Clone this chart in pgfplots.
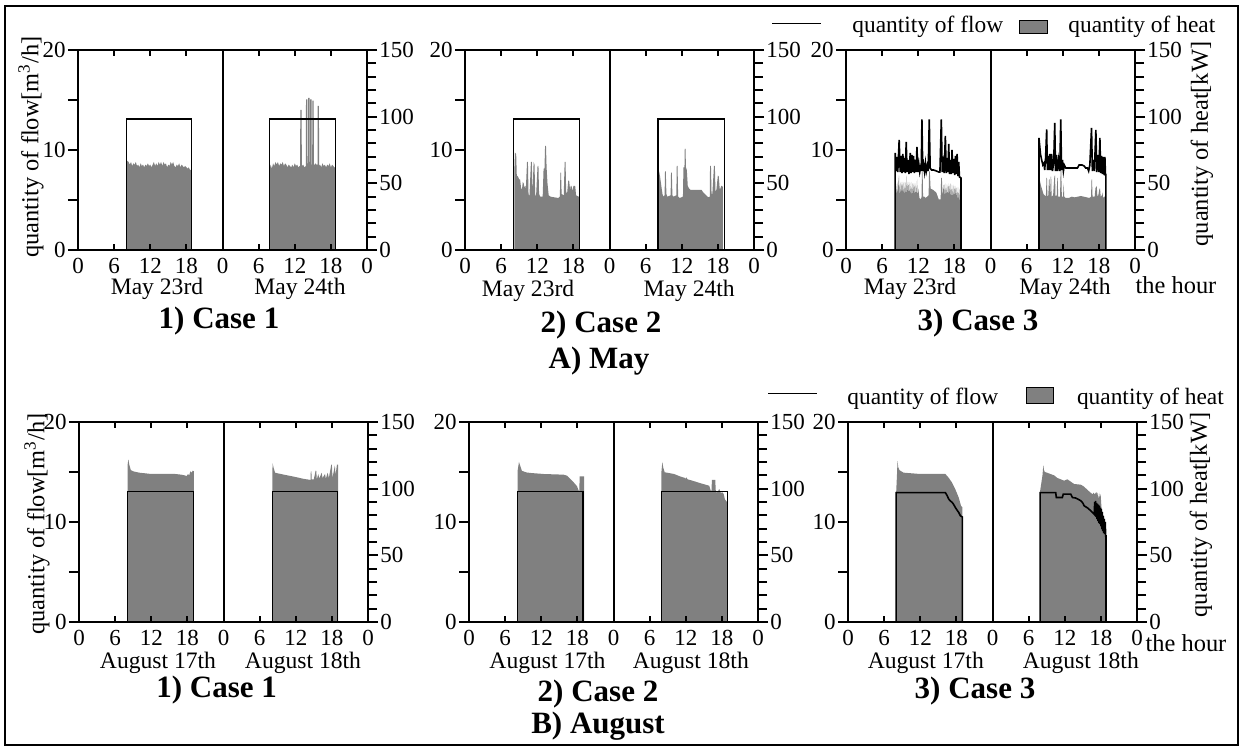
\documentclass[border=0pt]{standalone}
\usepackage{pgfplots}
\pgfplotsset{compat=1.18}
\usepackage{fontspec}
\setmainfont{Liberation Serif}
\newcommand{\tfont}{\fontsize{11.5}{13}\selectfont}
\newcommand{\lfont}{\fontsize{11.7}{13}\selectfont}
\newcommand{\yfont}{\fontsize{12.2}{14}\selectfont}
\newcommand{\dfont}{\fontsize{11.8}{13}\selectfont}
\newcommand{\bfont}{\fontsize{15.5}{17}\selectfont\bfseries}
\pgfplotsset{
  /pgf/number format/assume math mode=true,
  base/.style={scale only axis, width=144.5pt, height=100pt, xmin=0, xmax=48, anchor=south west,
    axis line style={line width=1pt,-},
    tick style={line width=0.9pt, black},
    tick label style={font=\tfont}},
  heatax/.style={base, ymin=0, ymax=150, axis on top,
    xtick={0,6,...,48}, xticklabels={0,6,12,18,0,6,12,18,0},
    xtick pos=both, xticklabel pos=lower, tick align=inside, major tick length=3pt,
    ytick=\empty, xticklabel style={yshift=-0.8pt}},
  rightax/.style={base, ymin=0, ymax=150, axis x line=none, axis y line=right,
    ytick={0,50,100,150}, minor ytick={10,20,30,40,60,70,80,90,110,120,130,140},
    tick align=outside, major tick length=5pt, minor tick length=4.5pt,
    yticklabel style={inner sep=1pt},
    axis line style={line width=1pt,-}, y axis line style={-},
    every outer y axis line/.append style={-}, every inner y axis line/.append style={-}},
  leftax/.style={base, ymin=0, ymax=20, axis x line=none, axis y line=left,
    ytick={0,10,20}, minor ytick={5,15},
    tick align=outside, major tick length=5pt, minor tick length=5pt,
    yticklabel style={inner sep=1pt},
    axis line style={line width=1pt,-}, y axis line style={-},
    every outer y axis line/.append style={-}, every inner y axis line/.append style={-}},
}
\begin{document}
\begin{tikzpicture}
\path[use as bounding box] (0pt,0pt) rectangle (622pt,375pt);
\draw[line width=1pt] (2.5pt,2.5pt) rectangle (619pt,372pt);

%% ================= TOP ROW (May) =================
%% Panel 1
\begin{axis}[heatax, at={(39pt,250pt)}]
\addplot[fill=gray, draw=none] coordinates {(8.05,0)(8.05,60)(8.15,67)(8.4,66)(8.6,64)(8.8,66)(9.0,63)(9.2,65)(9.4,64)(9.6,66)(9.8,63)(10.0,64)(10.2,62)(10.4,65)(10.6,63)(10.8,64)(11.0,62)(11.2,64)(11.4,63)(11.6,65)(11.8,63)(12.0,64)(12.2,62)(12.4,64)(12.6,66)(12.8,63)(13.0,65)(13.2,63)(13.4,66)(13.6,64)(13.8,66)(14.0,63)(14.2,66)(14.4,64)(14.6,65)(14.8,62)(15.0,64)(15.2,63)(15.4,66)(15.6,64)(15.8,66)(16.0,63)(16.2,62)(16.4,64)(16.6,63)(16.8,65)(17.0,62)(17.2,64)(17.4,63)(17.6,62)(17.8,63)(18.0,62)(18.2,61)(18.4,62)(18.6,60)(18.85,60)(18.85,0)
(31.8,0)(31.8,60)(32.0,64)(32.2,61)(32.4,65)(32.6,63)(32.8,66)(33.0,64)(33.2,66)(33.4,63)(33.6,65)(33.8,64)(34.0,66)(34.2,63)(34.4,65)(34.6,64)(34.8,62)(35.0,64)(35.2,63)(35.4,62)(35.6,64)(35.8,62)(36.0,65)(36.2,63)(36.4,64)(36.6,62)(36.8,63)(36.9,63)(36.92,105)(37.15,105)(37.17,63)(37.4,64)(37.6,62)(37.85,63)(37.87,113)(38.1,113)(38.12,64)(38.2,64)(38.22,114)(38.45,114)(38.47,66)(38.55,66)(38.57,113)(38.8,113)(38.82,64)(38.9,64)(38.92,112)(39.15,112)(39.17,63)(39.4,65)(39.6,64)(39.78,64)(39.8,108)(40.02,108)(40.04,63)(40.2,64)(40.4,62)(40.6,65)(40.8,63)(41.0,64)(41.2,62)(41.4,64)(41.6,63)(41.8,65)(42.0,62)(42.2,64)(42.4,63)(42.6,62)(42.75,62)(42.75,0)};
\draw[line width=1pt] (axis cs:24,0) -- (axis cs:24,150);
\end{axis}
\begin{axis}[rightax, at={(39pt,250pt)}]
\addplot[draw=none] coordinates {(0,0)};
\end{axis}
\begin{axis}[leftax, at={(39pt,250pt)}]
\addplot[black, line width=0.7pt] coordinates {(0,0)(8.05,0)(8.05,13.1)(18.85,13.1)(18.85,0)(31.8,0)(31.8,13.1)(42.75,13.1)(42.75,0)(48,0)};
\end{axis}

%% Panel 2
\begin{axis}[heatax, at={(232.5pt,250pt)}]
\addplot[fill=gray, draw=none] coordinates {(8.2,0)(8.2,60)(8.3,73)(8.5,72)(8.6,56)(8.8,55)(9.0,53)(9.15,53)(9.3,47)(9.45,45)(9.6,51)(9.75,50)(9.85,47)(10.0,48)(10.1,45)(10.3,66)(10.45,66)(10.55,42)(10.7,40)(10.95,66)(11.1,66)(11.2,42)(11.4,66)(11.55,64)(11.65,42)(11.8,40)(12.05,63)(12.2,63)(12.3,42)(12.5,40)(12.9,40)(13.05,61)(13.2,61)(13.3,78)(13.45,78)(13.55,62)(13.7,50)(13.9,41)(14.2,40)(15.5,39)(15.75,40)(15.85,58)(15.95,58)(16.05,42)(16.4,41)(16.55,66)(16.7,66)(16.8,44)(16.95,42)(17.15,52)(17.3,52)(17.45,45)(17.55,48)(17.7,48)(17.85,44)(18.0,48)(18.3,48)(18.45,41)(18.9,40)(18.9,0)
(32.16,0)(32.16,61)(32.4,55)(32.61,48)(32.8,42)(32.94,40)(33.15,41)(33.22,59)(33.35,59)(33.45,42)(33.61,40)(34.15,41)(34.22,58)(34.35,58)(34.45,41)(34.62,40)(35.1,41)(35.17,63)(35.3,63)(35.4,40)(35.67,39)(36.2,40)(36.28,62)(36.45,62)(36.5,76)(36.62,76)(36.7,62)(36.84,60)(37.0,48)(37.24,46)(37.5,45)(38.5,45)(39.3,45)(39.6,43)(39.85,42)(40.4,39.5)(40.65,40)(40.7,63)(40.85,63)(40.95,42)(41.08,42)(41.35,63)(41.5,63)(41.6,44)(41.75,45)(42.0,56)(42.15,55)(42.3,46)(42.42,46)(42.55,48)(42.7,48)(42.85,47)(42.85,0)};
\draw[line width=1pt] (axis cs:24,0) -- (axis cs:24,150);
\end{axis}
\begin{axis}[rightax, at={(232.5pt,250pt)}]
\addplot[draw=none] coordinates {(0,0)};
\end{axis}
\begin{axis}[leftax, at={(232.5pt,250pt)}]
\addplot[black, line width=0.7pt] coordinates {(0,0)(8.08,0)(8.08,13.1)(19.0,13.1)(19.0,0)(32.05,0)(32.05,13.1)(43.1,13.1)(43.1,0)(48,0)};
\end{axis}

%% Panel 3
\begin{axis}[heatax, at={(423pt,250pt)}]
\addplot[fill=gray, draw=none] coordinates {(8.17,0)(8.17,52)(8.3,50)(8.4,40)(8.5,51)(8.6,40)(8.7,51)(8.8,56)(8.9,40)(9.0,51)(9.1,40)(9.2,51)(9.3,40)(9.4,51)(9.5,40)(9.6,51)(9.7,40)(9.8,51)(9.9,40)(10.0,56)(10.1,40)(10.2,51)(10.3,40)(10.4,51)(10.5,40)(10.6,51)(10.7,40)(10.8,51)(10.9,40)(11.0,50)(11.1,40)(11.2,50)(11.3,39)(11.4,50)(11.5,39)(11.6,50)(11.7,40)(11.8,53)(11.9,39)(12.0,46)(12.2,39)(12.45,38)(12.55,40)(12.61,59)(12.72,59)(12.8,40)(13.0,40)(13.2,39)(13.5,40)(13.72,41)(13.8,59)(13.92,59)(14.05,46)(14.5,45)(15.0,43)(15.4,38)(15.72,38)(15.8,54)(15.92,54)(16.05,40)(16.2,49)(16.3,40)(16.4,49)(16.5,40)(16.6,50)(16.7,40)(16.8,49)(16.9,39)(17.0,50)(17.1,39)(17.2,49)(17.3,39)(17.4,50)(17.5,39)(17.6,49)(17.7,38)(17.8,49)(17.9,38)(18.0,48)(18.1,38)(18.2,48)(18.3,38)(18.4,47)(18.5,37)(18.6,47)(18.7,37)(18.8,46)(18.9,37)(19.1,37)(19.1,0)
(32.05,0)(32.05,56)(32.2,52)(32.4,48)(32.6,45)(32.8,42)(33.0,41)(33.2,40)(33.3,54)(33.38,54)(33.45,40)(33.6,41)(33.72,53)(33.8,53)(33.9,40)(34.0,55)(34.08,55)(34.15,40)(34.4,41)(34.6,55)(34.72,56)(34.8,40)(35.0,41)(35.08,54)(35.15,54)(35.25,40)(35.55,40)(35.65,60)(35.75,60)(35.85,40)(36.05,40)(36.15,50)(36.25,40)(36.5,39)(37.0,39)(37.5,40)(38.0,39.5)(38.5,40)(39.0,40.5)(39.5,40)(40.0,39.5)(40.4,39)(40.7,40)(40.78,53)(40.86,53)(40.95,40)(41.3,40)(41.45,47)(41.55,47)(41.65,48)(41.75,40)(41.9,41)(42.1,46)(42.2,46)(42.3,40)(42.5,41)(42.6,43)(42.7,39)(42.9,40)(43.17,40)(43.17,0)};
\draw[line width=1pt] (axis cs:24,0) -- (axis cs:24,150);
\end{axis}
\begin{axis}[rightax, at={(423pt,250pt)}]
\addplot[draw=none] coordinates {(0,0)};
\end{axis}
\begin{axis}[leftax, at={(423pt,250pt)}]
\addplot[black, line width=0.8pt] coordinates {(0,0)(8.17,0)(8.17,9.7)(8.3,7.9)(8.45,9.3)(8.6,7.8)(8.83,11.0)(9.0,7.8)(9.15,9.4)(9.3,7.7)(9.44,9.6)(9.6,7.8)(9.75,9.2)(9.85,7.7)(10.0,10.8)(10.15,7.8)(10.3,9.0)(10.45,7.6)(10.67,9.7)(10.8,7.7)(10.95,9.5)(11.1,7.8)(11.22,9.4)(11.35,7.7)(11.5,9.0)(11.65,7.8)(11.78,10.3)(11.95,7.8)(12.1,8.6)(12.25,7.8)(12.4,8.3)(12.5,7.9)(12.61,13.06)(12.75,7.9)(12.9,8.5)(13.05,7.8)(13.2,8.7)(13.35,7.9)(13.5,8.4)(13.65,7.9)(13.83,13.06)(13.98,8.2)(14.2,8.0)(14.56,8.0)(15.0,7.9)(15.4,7.8)(15.6,7.8)(15.83,13.06)(15.98,7.8)(16.15,8.7)(16.3,7.7)(16.5,11.4)(16.65,7.7)(16.85,9.2)(16.95,7.8)(17.06,10.6)(17.2,7.6)(17.4,9.0)(17.5,7.6)(17.61,10.0)(17.75,7.7)(17.9,9.1)(18.05,7.5)(18.17,9.4)(18.3,7.6)(18.45,9.6)(18.6,7.4)(18.72,8.8)(18.85,7.3)(19.1,7.2)(19.1,0)(32.05,0)(32.05,11.2)(32.3,9.6)(32.5,9.0)(32.7,8.5)(32.89,8.7)(33.0,8.0)(33.15,9.2)(33.33,12.05)(33.45,8.0)(33.6,9.4)(33.72,8.0)(33.85,9.6)(34.0,8.0)(34.15,9.6)(34.3,7.9)(34.5,8.8)(34.67,12.7)(34.8,7.9)(34.95,9.5)(35.11,7.9)(35.3,9.0)(35.5,7.9)(35.67,13.06)(35.8,8.0)(35.95,9.0)(36.11,7.9)(36.25,8.5)(36.5,8.2)(37.0,8.2)(37.5,8.2)(38.44,8.2)(38.72,8.5)(39.2,8.5)(39.56,8.4)(39.8,8.2)(40.11,8.2)(40.3,7.9)(40.5,8.5)(40.78,12.2)(40.92,7.9)(41.1,9.0)(41.25,7.9)(41.5,12.0)(41.65,7.8)(41.85,9.5)(42.0,7.8)(42.17,11.2)(42.3,7.7)(42.45,9.4)(42.6,7.6)(42.75,9.3)(42.9,7.5)(43.0,9.3)(43.1,7.5)(43.17,7.5)(43.17,0)(48,0)};
\end{axis}

%% ================= BOTTOM ROW (August) =================
%% Panel 1
\begin{axis}[heatax, at={(39.5pt,64pt)}]
\addplot[fill=gray, draw=none] coordinates {(8.08,0)(8.08,118)(8.2,122)(8.35,118)(8.6,114)(9.0,113)(10,112)(11,111.5)(12,111)(13,111)(14,111)(15,111)(16,111)(17,110.5)(17.5,110)(17.9,109.5)(18.1,111)(18.3,110)(18.5,113)(18.7,112)(18.9,113.5)(19.1,113)(19.1,0)
(32.1,0)(32.1,112)(32.17,119)(32.3,116)(32.56,112)(33.0,111.5)(33.94,110.6)(35.6,109.1)(37.27,107.4)(38.37,106.6)(38.45,106.5)(38.5,113)(38.6,113)(38.65,107)(39.0,107)(39.3,113.5)(39.4,113.5)(39.5,107)(39.75,111)(39.9,107.5)(40.3,112)(40.45,108)(40.86,111)(41.0,107.5)(41.3,112)(41.5,108)(41.9,118)(42.0,118)(42.1,108)(42.5,117.5)(42.6,110)(42.85,118)(43.05,118)(43.05,0)};
\draw[line width=1pt] (axis cs:24,0) -- (axis cs:24,150);
\end{axis}
\begin{axis}[rightax, at={(39.5pt,64pt)}]
\addplot[draw=none] coordinates {(0,0)};
\end{axis}
\begin{axis}[leftax, at={(39.5pt,64pt)}]
\addplot[black, line width=0.7pt] coordinates {(0,0)(8.08,0)(8.08,13.07)(18.98,13.07)(18.98,0)(32.1,0)(32.1,13.07)(42.97,13.07)(42.97,0)(48,0)};
\end{axis}

%% Panel 2
\begin{axis}[heatax, at={(234.5pt,64pt)}]
\addplot[fill=gray, draw=none] coordinates {(8.06,0)(8.06,113)(8.3,120)(8.45,118)(8.78,113.4)(9.5,112.2)(10.17,111.8)(12.39,111.0)(15.72,110.5)(16.28,109.7)(16.83,107.2)(17.39,104.7)(17.94,101.8)(18.22,98.5)(18.32,98)(18.38,109.2)(19.1,109.2)(19.1,0)
(31.95,0)(31.95,112)(32.11,120)(32.25,116)(32.5,112.3)(34.06,111)(35.17,109)(35.9,108)(36.0,107.2)(36.1,108.5)(36.3,107)(37.1,106)(38.5,104)(39.9,102.2)(40.15,98.5)(40.3,98.5)(40.33,106.5)(40.9,106.5)(41.0,97.2)(41.3,97.5)(41.56,99.7)(41.8,97)(42.1,97.2)(42.3,96)(42.5,92)(42.67,91)(42.9,89.7)(42.9,0)};
\draw[line width=1pt] (axis cs:24,0) -- (axis cs:24,150);
\end{axis}
\begin{axis}[rightax, at={(234.5pt,64pt)}]
\addplot[draw=none] coordinates {(0,0)};
\end{axis}
\begin{axis}[leftax, at={(234.5pt,64pt)}]
\addplot[black, line width=0.7pt] coordinates {(0,0)(8.05,0)(8.05,13.03)(18.95,13.03)(18.95,0)(31.95,0)(31.95,13.03)(42.95,13.03)(42.95,0)(48,0)};
\end{axis}

%% Panel 3
\begin{axis}[heatax, at={(424pt,64pt)}]
\addplot[fill=gray, draw=none] coordinates {(8.0,0)(8.0,97)(8.15,112)(8.22,120.6)(8.35,116)(8.56,113.8)(9.22,112)(12,111)(16.17,111)(16.72,108.2)(17.28,104.5)(17.83,99.5)(18.39,93.3)(18.78,87)(19.0,86)(19.0,0)
(31.9,0)(31.9,98)(32.3,110)(32.44,117.6)(32.55,114)(32.67,112.6)(34.22,110)(34.78,108)(35.89,106)(36.44,107)(37.56,103.5)(38.67,103)(39.22,101.5)(39.78,99)(40.61,95.8)(40.8,97)(41.0,95.5)(41.1,97)(41.2,96)(41.3,97.5)(41.44,96.5)(41.6,92)(41.7,97)(41.8,93)(41.95,96)(42.1,86)(42.28,81)(42.5,79)(42.7,70)(42.83,64.8)(42.9,64.8)(42.9,0)};
\draw[line width=1pt] (axis cs:24,0) -- (axis cs:24,150);
\end{axis}
\begin{axis}[rightax, at={(424pt,64pt)}]
\addplot[draw=none] coordinates {(0,0)};
\end{axis}
\begin{axis}[leftax, at={(424pt,64pt)}]
\addplot[black, line width=0.8pt] coordinates {(0,0)(8.0,0)(8.0,12.94)(16.17,12.94)(16.5,12.6)(16.72,12.3)(17.0,12.1)(17.28,11.97)(17.5,11.8)(17.83,11.45)(18.1,11.2)(18.39,10.95)(18.67,10.62)(18.94,10.52)(19.0,10.5)(19.0,0)(31.9,0)(31.9,12.94)(34.5,12.94)(34.6,12.45)(35.6,12.45)(35.75,12.78)(37.0,12.78)(37.28,12.45)(37.8,12.4)(38.3,12.25)(38.67,12.12)(39.0,11.9)(39.22,11.62)(39.8,11.4)(40.33,11.12)(40.89,10.79)(40.98,12.0)(41.05,10.6)(41.12,12.1)(41.2,10.5)(41.28,11.9)(41.36,10.3)(41.44,11.8)(41.52,10.1)(41.6,11.7)(41.68,9.9)(41.76,11.6)(41.84,9.8)(41.92,11.4)(42.0,9.6)(42.08,11.3)(42.16,9.3)(42.24,11.0)(42.32,9.1)(42.4,10.6)(42.48,8.9)(42.56,10.3)(42.64,8.8)(42.72,10.0)(42.8,8.6)(42.85,8.6)(42.85,0)(48,0)};
\end{axis}

%% ================= TEXT =================
\node[rotate=90, font=\yfont] at (15.5pt,301.5pt) {quantity of flow[m\textsuperscript{3}/h]};
\node[rotate=90, font=\yfont] at (18.5pt,113pt) {quantity of flow[m\textsuperscript{3}/h]};
\node[rotate=90, font=\yfont] at (601pt,303pt) {quantity of heat[kW]};
\node[rotate=90, font=\yfont] at (600.5pt,117.5pt) {quantity of heat[kW]};
\node[font=\yfont, inner sep=0pt] at (588pt,232.5pt) {the hour};
\node[font=\yfont, inner sep=0pt] at (593pt,53.5pt) {the hour};

\node[anchor=base, font=\dfont] at (78.5pt,227.5pt) {May 23rd};
\node[anchor=base, font=\dfont] at (150pt,227.5pt) {May 24th};
\node[anchor=base, font=\dfont] at (264pt,226.7pt) {May 23rd};
\node[anchor=base, font=\dfont] at (344.6pt,226.7pt) {May 24th};
\node[anchor=base, font=\dfont] at (455pt,227.5pt) {May 23rd};
\node[anchor=base, font=\dfont] at (532.5pt,227.5pt) {May 24th};
\node[anchor=base, font=\dfont] at (79pt,40.8pt) {August 17th};
\node[anchor=base, font=\dfont] at (151.5pt,40.8pt) {August 18th};
\node[anchor=base, font=\dfont] at (273.75pt,40.8pt) {August 17th};
\node[anchor=base, font=\dfont] at (345.4pt,40.8pt) {August 18th};
\node[anchor=base, font=\dfont] at (462.9pt,40.8pt) {August 17th};
\node[anchor=base, font=\dfont] at (540.4pt,40.8pt) {August 18th};

\node[anchor=base, font=\bfont] at (109.5pt,210.5pt) {1) Case 1};
\node[anchor=base, font=\bfont] at (300.5pt,208.7pt) {2) Case 2};
\node[anchor=base, font=\bfont] at (489pt,209.5pt) {3) Case 3};
\node[anchor=base, font=\bfont] at (299.5pt,190.8pt) {A) May};
\node[anchor=base, font=\bfont] at (108.3pt,26.3pt) {1) Case 1};
\node[anchor=base, font=\bfont] at (299pt,24.2pt) {2) Case 2};
\node[anchor=base, font=\bfont] at (487.5pt,25.8pt) {3) Case 3};
\node[anchor=base, font=\bfont] at (299pt,8.3pt) {B) August};

%% legends
\draw[line width=0.8pt] (386pt,363.3pt) -- (410.5pt,363.3pt);
\node[anchor=base west, font=\lfont, inner sep=0pt] at (426pt,358.5pt) {quantity of flow};
\draw[fill=gray, line width=0.5pt] (509.5pt,358.3pt) rectangle (523.5pt,364.7pt);
\node[anchor=base west, font=\lfont, inner sep=0pt] at (534pt,358.5pt) {quantity of heat};
\draw[line width=0.8pt] (384pt,178.3pt) -- (408.5pt,178.3pt);
\node[anchor=base west, font=\lfont, inner sep=0pt] at (423.5pt,172.8pt) {quantity of flow};
\draw[fill=gray, line width=0.5pt] (513.3pt,173pt) rectangle (526.7pt,181pt);
\node[anchor=base west, font=\lfont, inner sep=0pt] at (538.3pt,172.8pt) {quantity of heat};
\end{tikzpicture}
\end{document}
